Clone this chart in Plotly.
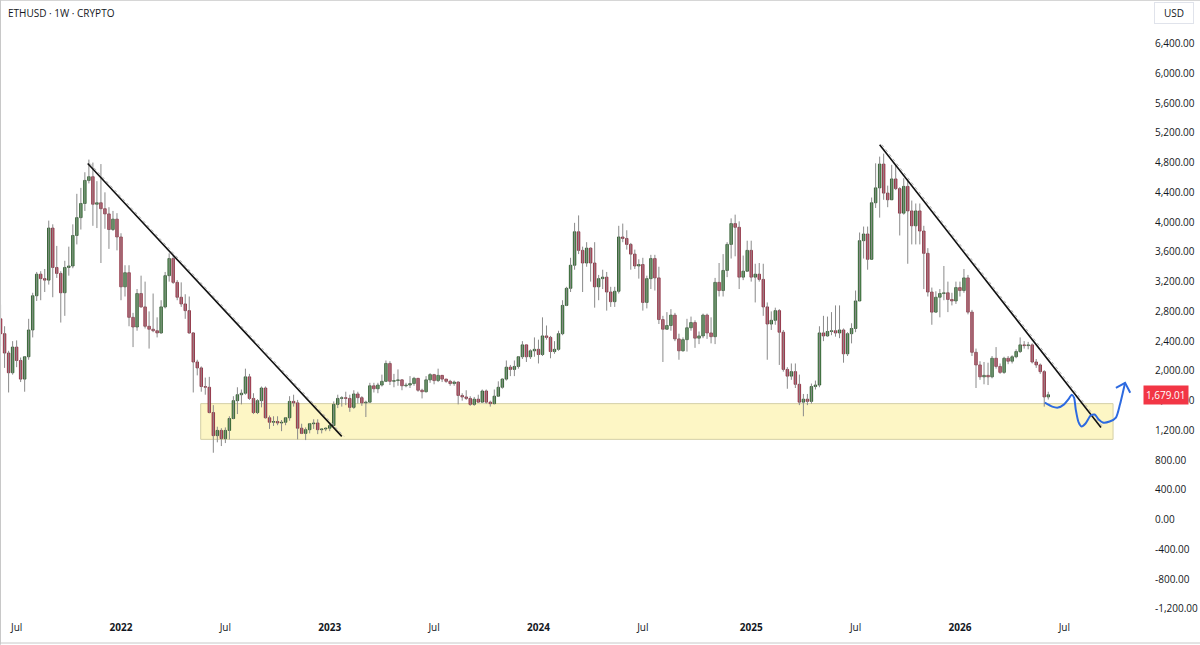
import pandas as pd
import plotly.graph_objects as go

# weekly ETHUSD candles (open = previous close)
first_open = 2700
closes = [
    # 2021 (from Jun 7)
    2500, 2240, 1975, 2320, 2140, 1890, 2190, 2550, 3010, 3300,
    3240, 3220, 3920, 3390, 3310, 3050, 3390, 3410, 3820, 4060,
    4250, 4560, 4610, 4240, 4260, 4180, 4110, 3900, 4040, 3800,
    # 2022
    3130, 3320, 2720, 2590, 3040, 2860, 2600, 2560, 2540, 2510,
    2860, 3280, 3510, 3190, 2990, 2900, 2810, 2510, 2120, 2040,
    1790, 1780, 1440, 1130, 1200, 1090, 1200, 1360, 1600, 1680,
    1700, 1920, 1630, 1440, 1600, 1770, 1370, 1310, 1320, 1300,
    1310, 1370, 1590, 1570, 1230, 1160, 1210, 1290, 1300, 1210,
    1220, 1230,
    # 2023
    1265, 1550, 1630, 1640, 1630, 1510, 1690, 1640, 1570, 1580,
    1800, 1760, 1810, 1860, 2100, 1860, 1870, 1880, 1800, 1810,
    1830, 1900, 1740, 1720, 1880, 1950, 1870, 1940, 1890, 1860,
    1830, 1850, 1670, 1650, 1630, 1550, 1620, 1580, 1730, 1580,
    1560, 1660, 1780, 1890, 2050, 2020, 2060, 2190, 2350, 2190,
    2270, 2290,
    # 2024
    2220, 2470, 2450, 2260, 2290, 2500, 2880, 3110, 3420, 3870,
    3620, 3450, 3650, 3450, 3130, 3240, 3260, 3060, 2930, 3070,
    3800, 3780, 3700, 3570, 3410, 3430, 2920, 3240, 3510, 3250,
    2690, 2560, 2610, 2750, 2430, 2270, 2420, 2580, 2650, 2440,
    2470, 2750, 2510, 2460, 3190, 3080, 3350, 3700, 3980, 3930,
    3260, 3340, 3620,
    # 2025
    3260, 3300, 3230, 2860, 2630, 2680, 2810, 2520, 2020, 1930,
    1990, 1820, 1580, 1620, 1590, 1790, 1810, 2510, 2470, 2530,
    2540, 2510, 2550, 2230, 2500, 2570, 2940, 3750, 3840, 3500,
    4260, 4460, 4780, 4390, 4300, 4580, 4450, 4120, 4480, 4150,
    3950, 4150, 3880, 3580, 3060, 2790, 2990, 3040, 3050, 2960,
    2940, 3120,
    # 2026
    3080, 3250, 2790, 2250, 2080, 1920, 1940, 1920, 2170, 2060,
    1980, 2170, 2130, 2190, 2260, 2350, 2340, 2350, 2120, 2080,
    1990, 1650, 1679.01,
]
highs = [
    2890, 2600, 2270, 2400, 2410, 2180, 2200, 2700, 3050, 3330,
    3340, 3370, 4020, 3970, 3680, 3340, 3480, 3670, 3970, 4380,
    4460, 4670, 4840, 4800, 4550, 4780, 4400, 4200, 4150, 4120,
    3850, 3420, 3420, 2780, 3100, 3280, 3200, 2800, 3040, 2720,
    2950, 3330, 3580, 3550, 3220, 3190, 3030, 3000, 2520, 2150,
    2060, 1910, 1920, 1540, 1250, 1230, 1240, 1390, 1660, 1780,
    1750, 2030, 1960, 1700, 1620, 1790, 1790, 1400, 1390, 1390,
    1340, 1380, 1660, 1680, 1610, 1290, 1240, 1300, 1350, 1350,
    1230, 1240,
    1290, 1590, 1680, 1660, 1720, 1680, 1740, 1720, 1660, 1600,
    1840, 1840, 1840, 1950, 2140, 2130, 1960, 2020, 1890, 1840,
    1930, 1920, 1900, 1760, 1930, 1970, 1960, 2030, 1940, 1890,
    1880, 1870, 1860, 1700, 1740, 1660, 1650, 1680, 1750, 1750,
    1600, 1750, 1860, 1900, 2140, 2080, 2140, 2200, 2400, 2350,
    2290, 2450,
    2420, 2720, 2610, 2470, 2400, 2540, 2950, 3130, 3520, 3990,
    4090, 3670, 3730, 3660, 3730, 3290, 3360, 3330, 3130, 3130,
    3950, 3980, 3890, 3720, 3630, 3500, 3520, 3280, 3560, 3560,
    3400, 2740, 2790, 2830, 2780, 2500, 2450, 2700, 2730, 2680,
    2530, 2770, 2770, 2720, 3250, 3450, 3570, 3730, 4050, 4100,
    4010, 3550, 3750,
    3750, 3440, 3450, 3440, 2920, 2800, 2850, 2830, 2550, 2050,
    2100, 2100, 1950, 1690, 1690, 1830, 1870, 2600, 2740, 2730,
    2790, 2880, 2880, 2570, 2520, 2640, 3080, 3860, 3940, 3940,
    4330, 4790, 4880, 4920, 4490, 4770, 4770, 4470, 4590, 4580,
    4290, 4250, 4250, 3950, 3650, 3120, 3070, 3100, 3410, 3200,
    3050, 3200,
    3200, 3370, 3290, 2820, 2300, 2130, 2120, 2110, 2200, 2320,
    2100, 2190, 2200, 2210, 2290, 2450, 2400, 2390, 2370, 2160,
    2100, 2010, 1720,
]
lows = [
    2330, 2040, 1710, 1950, 2050, 1850, 1720, 2150, 2450, 2940,
    2950, 3060, 3160, 2990, 3250, 2650, 2740, 3280, 3380, 3700,
    3900, 4150, 4520, 3950, 3920, 3450, 3910, 3640, 3880, 3620,
    2950, 3000, 2600, 2320, 2540, 2850, 2570, 2300, 2520, 2450,
    2500, 2840, 3200, 3170, 2950, 2860, 2700, 2500, 1710, 1940,
    1720, 1680, 1430, 900, 1040, 990, 1030, 1080, 1350, 1420,
    1550, 1680, 1610, 1420, 1420, 1510, 1360, 1220, 1260, 1270,
    1190, 1270, 1330, 1520, 1080, 1150, 1070, 1160, 1220, 1150,
    1160, 1190,
    1190, 1260, 1500, 1520, 1540, 1450, 1490, 1560, 1530, 1380,
    1570, 1710, 1700, 1790, 1850, 1810, 1780, 1800, 1740, 1780,
    1770, 1800, 1720, 1630, 1710, 1840, 1820, 1850, 1850, 1840,
    1800, 1800, 1550, 1600, 1610, 1530, 1530, 1570, 1570, 1560,
    1520, 1550, 1650, 1760, 1870, 1930, 1930, 2030, 2160, 2120,
    2160, 2190,
    2100, 2200, 2420, 2170, 2230, 2270, 2480, 2870, 3060, 3360,
    3570, 3060, 3400, 3200, 2850, 2950, 3100, 2810, 2860, 2860,
    3040, 3730, 3630, 3360, 3370, 3240, 2810, 2840, 3100, 3080,
    2630, 2120, 2550, 2540, 2400, 2150, 2260, 2260, 2540, 2310,
    2360, 2440, 2430, 2370, 2360, 3000, 3000, 3260, 3510, 3540,
    3100, 3220, 3330,
    3200, 2920, 3200, 2740, 2150, 2550, 2620, 2080, 1990, 1760,
    1880, 1770, 1540, 1390, 1540, 1560, 1750, 1780, 2400, 2460,
    2480, 2460, 2440, 2110, 2200, 2370, 2520, 2940, 3510, 3360,
    3500, 4190, 4060, 4300, 4200, 4300, 4430, 3820, 4100, 3440,
    3700, 3700, 3700, 3100, 3000, 2620, 2780, 2720, 2950, 2790,
    2880, 2900,
    3000, 3050, 2760, 2200, 1770, 1880, 1820, 1810, 1900, 2030,
    1960, 1960, 2090, 2100, 2170, 2240, 2300, 2290, 2100, 2040,
    1960, 1520, 1615,
]

x_tick_dates = ["2021-07-05", "2022-01-03", "2022-07-04", "2023-01-02",
                "2023-07-03", "2024-01-01", "2024-07-01", "2025-01-06",
                "2025-07-07", "2026-01-05", "2026-07-06"]
x_tick_text = ["Jul", "<b>2022</b>", "Jul", "<b>2023</b>", "Jul", "<b>2024</b>",
               "Jul", "<b>2025</b>", "Jul", "<b>2026</b>", "Jul"]
y_ticks = list(range(-1200, 6401, 400))

# drawings
trend1_dates = ["2021-11-06", "2023-01-23"]
trend1_prices = [4787, 1120]
trend2_dates = ["2025-08-18", "2026-09-08"]
trend2_prices = [5040, 1240]
zone_dates = ["2022-05-22", "2026-09-29"]
zone_prices = [1080, 1560]
path_dates = ["2026-06-02", "2026-06-15", "2026-06-25", "2026-07-05", "2026-07-14",
              "2026-07-19", "2026-07-23", "2026-07-26", "2026-07-31", "2026-08-05",
              "2026-08-12", "2026-08-21", "2026-08-28", "2026-09-04", "2026-09-11",
              "2026-09-23", "2026-10-04", "2026-10-11", "2026-10-16", "2026-10-20"]
path_prices = [1573, 1520, 1507, 1547, 1627, 1680, 1640, 1480, 1307, 1253,
               1293, 1400, 1413, 1347, 1307, 1320, 1373, 1547, 1707, 1840]
arrow_dates = ["2026-10-04", "2026-10-20", "2026-10-29"]
arrow_prices = [1773, 1840, 1707]

dates = pd.date_range("2021-06-07", periods=len(closes), freq="7D")
opens = [first_open] + closes[:-1]
up = [c >= o for o, c in zip(opens, closes)]

GREEN, GREEN_EDGE = "#4e9f4e", "#1f4a1f"
RED, RED_EDGE = "#cf4863", "#7d2233"

fig = go.Figure()

# wicks
wx, wy = [], []
for d, h, l in zip(dates, highs, lows):
    wx += [d, d, None]
    wy += [l, h, None]
fig.add_trace(go.Scatter(x=wx, y=wy, mode="lines", line=dict(color="#8a8a8a", width=1),
                         hoverinfo="skip"))

# bodies
fig.add_trace(go.Bar(
    x=dates, base=opens, y=[c - o for o, c in zip(opens, closes)],
    width=0.62 * 7 * 86400000,
    marker=dict(color=[GREEN if u else RED for u in up],
                line=dict(color=[GREEN_EDGE if u else RED_EDGE for u in up], width=0.8)),
    hoverinfo="skip",
))

# trend lines with faint dotted shadow
for td, tp in [(trend1_dates, trend1_prices), (trend2_dates, trend2_prices)]:
    shadow = [pd.Timestamp(d) + pd.Timedelta(days=4) for d in td]
    fig.add_trace(go.Scatter(x=shadow, y=tp, mode="lines",
                             line=dict(color="#b5b5b5", width=1, dash="dot"), hoverinfo="skip"))
    fig.add_trace(go.Scatter(x=td, y=tp, mode="lines",
                             line=dict(color="#111111", width=1.6), hoverinfo="skip"))

# hand drawn projection
fig.add_trace(go.Scatter(x=path_dates, y=path_prices, mode="lines",
                         line=dict(color="#2d6ae0", width=2, shape="spline", smoothing=0.7),
                         hoverinfo="skip"))
fig.add_trace(go.Scatter(x=arrow_dates, y=arrow_prices, mode="lines",
                         line=dict(color="#2d6ae0", width=2), hoverinfo="skip"))

fig.add_shape(type="rect", xref="x", yref="y", layer="below",
              x0=zone_dates[0], x1=zone_dates[1], y0=zone_prices[0], y1=zone_prices[1],
              fillcolor="#fdf6c5", line=dict(color="#d4cfa6", width=1))

# frame lines
fig.add_shape(type="line", xref="paper", yref="paper", x0=0, x1=1.06, y0=1, y1=1,
              line=dict(color="#c8c8c8", width=1.5))
fig.add_shape(type="line", xref="paper", yref="paper", x0=0, x1=0, y0=-0.04, y1=1,
              line=dict(color="#c8c8c8", width=2))
fig.add_shape(type="line", xref="paper", yref="paper", x0=0, x1=1.06, y0=-0.0371, y1=-0.0371,
              line=dict(color="#c8c8c8", width=1))

fig.add_annotation(text="ETHUSD · 1W · CRYPTO", xref="paper", yref="paper", x=0, y=1,
                   xanchor="left", yanchor="top", xshift=6, yshift=-4, showarrow=False,
                   font=dict(size=10, color="#131722"))
fig.add_annotation(text="USD", xref="paper", yref="paper", x=1.0298, y=0.979,
                   xanchor="center", yanchor="middle",
                   showarrow=False, width=34, height=16, borderpad=2,
                   bordercolor="#e0e3eb", borderwidth=1, bgcolor="white",
                   font=dict(size=10, color="#131722"))
fig.add_annotation(text=f"{closes[-1]:,.2f}", xref="paper", yref="y", x=1, y=closes[-1],
                   xanchor="left", xshift=3, showarrow=False, bgcolor="#f23645",
                   borderpad=2, font=dict(size=10, color="white"))

fig.update_xaxes(type="date", range=["2021-06-06", "2026-11-15"],
                 tickvals=x_tick_dates, ticktext=x_tick_text,
                 showgrid=False, zeroline=False, ticks="", showline=False,
                 tickfont=dict(size=10, color="#131722"))
fig.update_yaxes(side="right", range=[-1348, 6985],
                 tickvals=y_ticks, ticktext=[f"{v:,.2f}" for v in y_ticks],
                 showgrid=False, zeroline=False, showline=False,
                 ticks="outside", ticklen=12, tickcolor="rgba(0,0,0,0)",
                 tickfont=dict(size=10, color="#131722"))
fig.update_layout(width=1200, height=645, margin=dict(l=0, r=60, t=0, b=25),
                  plot_bgcolor="white", paper_bgcolor="white", showlegend=False,
                  font=dict(family="Open Sans"), dragmode=False)

fig.write_html("out.html", config={"displayModeBar": False},
               post_script="document.body.style.margin='0';")
